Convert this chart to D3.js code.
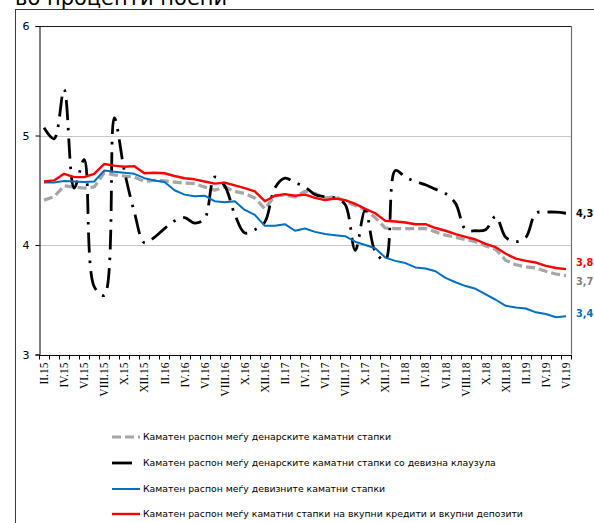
<!DOCTYPE html>
<html>
<head>
<meta charset="utf-8">
<script src="https://cdn.jsdelivr.net/npm/d3@7"></script>
<style>
  html, body { margin: 0; padding: 0; background: #fff; }
  svg { display: block; }
</style>
</head>
<body>
<svg id="chart" width="594" height="523"></svg>
<script>
// Monthly periods, II.2015 - VI.2019
const periods = [
  "II.15","III.15","IV.15","V.15","VI.15","VII.15","VIII.15","IX.15","X.15","XI.15","XII.15",
  "I.16","II.16","III.16","IV.16","V.16","VI.16","VII.16","VIII.16","IX.16","X.16","XI.16","XII.16",
  "I.17","II.17","III.17","IV.17","V.17","VI.17","VII.17","VIII.17","IX.17","X.17","XI.17","XII.17",
  "I.18","II.18","III.18","IV.18","V.18","VI.18","VII.18","VIII.18","IX.18","X.18","XI.18","XII.18",
  "I.19","II.19","III.19","IV.19","V.19","VI.19"
];

// Periods that carry an axis label
const tickLabels = [
  "II.15","IV.15","VI.15","VIII.15","X.15","XII.15",
  "II.16","IV.16","VI.16","VIII.16","X.16","XII.16",
  "II.17","IV.17","VI.17","VIII.17","X.17","XII.17",
  "II.18","IV.18","VI.18","VIII.18","X.18","XII.18",
  "II.19","IV.19","VI.19"
];

const yTicks = [3, 4, 5, 6];

// Spread between denar interest rates (p.p.)
const denarSpread = [
  4.41,4.44,4.54,4.53,4.52,4.53,4.66,4.64,4.63,4.62,4.58,
  4.59,4.585,4.575,4.565,4.56,4.53,4.50,4.53,4.49,4.47,4.43,4.33,
  4.45,4.455,4.44,4.49,4.47,4.43,4.44,4.40,4.36,4.32,4.25,4.155,
  4.15,4.15,4.15,4.15,4.12,4.09,4.07,4.05,4.03,3.99,3.96,3.86,
  3.82,3.80,3.79,3.76,3.735,3.72
];

// Spread between denar interest rates with FX clause
const denarFxSpread = [
  5.07,4.97,5.42,4.52,4.78,3.62,3.54,5.16,4.68,4.30,4.02,
  4.07,4.15,4.22,4.25,4.20,4.24,4.62,4.54,4.28,4.11,4.14,4.21,
  4.52,4.61,4.57,4.53,4.46,4.44,4.43,4.37,3.95,4.32,3.94,3.86,
  4.68,4.62,4.58,4.55,4.51,4.47,4.38,4.14,4.13,4.14,4.26,4.07,
  4.03,4.07,4.29,4.30,4.30,4.29
];

// Spread between foreign currency interest rates
const fxSpread = [
  4.57,4.57,4.585,4.58,4.575,4.58,4.68,4.67,4.66,4.65,4.61,
  4.59,4.575,4.50,4.46,4.445,4.45,4.40,4.39,4.40,4.32,4.275,4.175,
  4.175,4.19,4.13,4.15,4.12,4.10,4.09,4.08,4.03,4.00,3.97,3.885,
  3.855,3.835,3.795,3.785,3.76,3.70,3.66,3.625,3.60,3.55,3.50,3.445,
  3.43,3.42,3.385,3.37,3.34,3.35
];

// Spread between rates on total loans and total deposits
const totalSpread = [
  4.58,4.59,4.65,4.62,4.62,4.65,4.74,4.725,4.715,4.72,4.655,
  4.66,4.655,4.63,4.61,4.60,4.58,4.56,4.57,4.545,4.52,4.49,4.40,
  4.45,4.465,4.45,4.46,4.43,4.41,4.425,4.41,4.375,4.33,4.29,4.22,
  4.215,4.205,4.19,4.19,4.155,4.13,4.10,4.075,4.05,4.01,3.98,3.92,
  3.875,3.855,3.84,3.81,3.79,3.78
];

const seriesNames = [
  "Каматен распон меѓу денарските каматни стапки",
  "Каматен распон меѓу денарските каматни стапки со девизна клаузула",
  "Каматен распон меѓу девизните каматни стапки",
  "Каматен распон меѓу каматни стапки на вкупни кредити и вкупни депозити"
];

const unitLabel = "во проценти поени";

// ---- drawing ----
const series = [
  { name: seriesNames[0], values: denarSpread,   color: "#a6a6a6", width: 3.2, dash: "9,4",        curve: d3.curveLinear },
  { name: seriesNames[1], values: denarFxSpread, color: "#000000", width: 2.8, dash: "20,8,2.5,8", curve: d3.curveCatmullRom.alpha(0.5) },
  { name: seriesNames[2], values: fxSpread,      color: "#0070c0", width: 2.0, dash: null,         curve: d3.curveLinear },
  { name: seriesNames[3], values: totalSpread,   color: "#ff0000", width: 2.4, dash: null,         curve: d3.curveLinear }
];

const svg = d3.select("#chart");
const plot = { left: 39, right: 571, top: 26, bottom: 354.5 };

const x = d3.scaleBand().domain(periods).range([plot.left, plot.right]).padding(0);
const y = d3.scaleLinear().domain([3, 6]).range([plot.bottom, plot.top]);
const cx = d => x(d) + x.bandwidth() / 2;

// outer frame (top and left edges)
svg.append("line").attr("x1", 15).attr("x2", 594).attr("y1", 9.5).attr("y2", 9.5)
  .attr("stroke", "#3c3c3c").attr("stroke-width", 1);
svg.append("line").attr("x1", 15.5).attr("x2", 15.5).attr("y1", 9).attr("y2", 523)
  .attr("stroke", "#3c3c3c").attr("stroke-width", 1);

// unit label, partly above the visible area
svg.append("text").attr("x", 15).attr("y", 5)
  .attr("font-family", "DejaVu Sans, sans-serif").attr("font-size", 21)
  .attr("fill", "#000").text(unitLabel);

// gridlines
svg.append("g").selectAll("line").data(yTicks.filter(t => t > 3 && t < 6)).join("line")
  .attr("x1", plot.left).attr("x2", plot.right)
  .attr("y1", d => Math.round(y(d)) + 0.5).attr("y2", d => Math.round(y(d)) + 0.5)
  .attr("stroke", "#c8c8c8").attr("stroke-width", 1);

// plot border: top and right
svg.append("line").attr("x1", plot.left).attr("x2", plot.right)
  .attr("y1", Math.round(y(6)) + 0.5).attr("y2", Math.round(y(6)) + 0.5)
  .attr("stroke", "#1a1a1a").attr("stroke-width", 1);
svg.append("line").attr("x1", plot.right + 0.5).attr("x2", plot.right + 0.5)
  .attr("y1", plot.top).attr("y2", plot.bottom)
  .attr("stroke", "#6e6e6e").attr("stroke-width", 1.2);

// y axis
const yAxis = d3.axisLeft(y).tickValues(yTicks).tickFormat(d3.format("d")).tickSize(4).tickPadding(6);
const gy = svg.append("g").attr("transform", `translate(${plot.left + 0.5},0)`).call(yAxis);
gy.select(".domain").attr("stroke", "#000");
gy.selectAll(".tick line").attr("stroke", "#000");
gy.selectAll("text").attr("font-family", "DejaVu Sans, sans-serif").attr("font-size", 11).attr("fill", "#000");

// x axis: ticks at month boundaries, labels every second month
const xb = d3.scaleLinear().domain([0, periods.length]).range([plot.left, plot.right]);
const gx = svg.append("g").attr("transform", `translate(0,${Math.round(plot.bottom) + 0.5})`);
gx.append("line").attr("x1", plot.left).attr("x2", plot.right + 1).attr("stroke", "#000");
gx.selectAll("line.tk").data(d3.range(periods.length + 1)).join("line").attr("class", "tk")
  .attr("x1", d => Math.round(xb(d)) + 0.5).attr("x2", d => Math.round(xb(d)) + 0.5)
  .attr("y1", 0).attr("y2", 4).attr("stroke", "#000");
gx.selectAll("text").data(tickLabels).join("text")
  .attr("transform", d => `translate(${cx(d)},7) rotate(-90)`)
  .attr("text-anchor", "end").attr("dy", "0.35em")
  .attr("font-family", "Liberation Serif, serif").attr("font-size", 11.5)
  .attr("fill", "#000").text(d => d);

// series lines
series.forEach(s => {
  const line = d3.line().x((d, i) => cx(periods[i])).y(d => y(d)).curve(s.curve);
  svg.append("path").datum(s.values)
    .attr("d", line).attr("fill", "none")
    .attr("stroke", s.color).attr("stroke-width", s.width)
    .attr("stroke-dasharray", s.dash).attr("stroke-linejoin", "round");
});

// end-of-period value labels
const fmt = d3.formatLocale({ decimal: ",", thousands: ".", grouping: [3], currency: ["", ""] }).format(".1f");
const endLabels = [
  { s: series[1], color: "#000000", dy: 0 },
  { s: series[3], color: "#ff0000", dy: -7 },
  { s: series[0], color: "#7f7f7f", dy: 6 },
  { s: series[2], color: "#0070c0", dy: -3 }
];
svg.append("g").selectAll("text").data(endLabels).join("text")
  .attr("x", 576)
  .attr("y", d => y(d.s.values[d.s.values.length - 1]) + d.dy)
  .attr("dy", "0.35em")
  .attr("font-family", "DejaVu Sans, sans-serif").attr("font-size", 9.8).attr("font-weight", "bold")
  .attr("fill", d => d.color)
  .text(d => fmt(d.s.values[d.s.values.length - 1]));

// legend
const legend = svg.append("g");
const legendY = [437, 463, 489, 514];
series.forEach((s, i) => {
  legend.append("line")
    .attr("x1", 112).attr("x2", 140).attr("y1", legendY[i]).attr("y2", legendY[i])
    .attr("stroke", s.color).attr("stroke-width", s.width)
    .attr("stroke-dasharray", s.dash);
  legend.append("text")
    .attr("x", 143).attr("y", legendY[i]).attr("dy", "0.35em")
    .attr("font-family", "DejaVu Sans, sans-serif").attr("font-size", 9.3)
    .attr("fill", "#000").text(s.name);
});
</script>
</body>
</html>
